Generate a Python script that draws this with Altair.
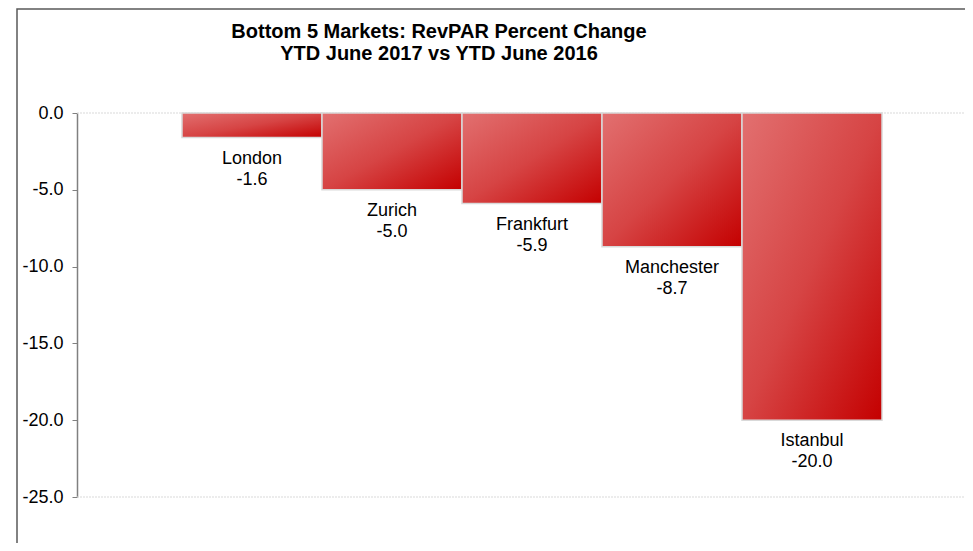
import altair as alt
import pandas as pd

markets = ["London", "Zurich", "Frankfurt", "Manchester", "Istanbul"]
changes = [-1.6, -5.0, -5.9, -8.7, -20.0]
y_ticks = [0, -5, -10, -15, -20, -25]
grid_values = [0, -25]
title_lines = ["Bottom 5 Markets: RevPAR Percent Change", "YTD June 2017 vs YTD June 2016"]

FONT = "Liberation Sans"

df = pd.DataFrame({"market": markets, "change": changes})
df["label"] = [f"{m}\n{v:.1f}" for m, v in zip(markets, changes)]

x_scale = alt.Scale(domain=markets, range=[105, 805], paddingInner=0, paddingOuter=0)
y_scale = alt.Scale(domain=[-25, 0], nice=False, zero=False)

base = alt.Chart(df)

bars = base.mark_bar(
    color=alt.LinearGradient(
        gradient="linear", x1=0, y1=0, x2=1, y2=1,
        stops=[alt.GradientStop(offset=0, color="#e27070"),
               alt.GradientStop(offset=0.5, color="#d64444"),
               alt.GradientStop(offset=1, color="#c40000")]),
    stroke="#d9d9d9", strokeWidth=1.5,
).encode(
    x=alt.X("market:N", sort=markets, axis=None, scale=x_scale),
    y=alt.Y("change:Q", scale=y_scale,
            axis=alt.Axis(values=y_ticks, format=".1f", title=None, grid=False,
                          labelExpr="replace(datum.label, '\u2212', '-')",
                          domainColor="#808080", domainWidth=1.5,
                          tickColor="#808080", tickSize=5, tickWidth=1,
                          labelFont=FONT, labelFontSize=18, labelColor="#000000",
                          labelPadding=9)),
    y2=alt.datum(0),
)

labels = base.mark_text(
    font=FONT, fontSize=18, color="#000000", baseline="alphabetic", align="center",
    lineBreak="\n", lineHeight=21, dy=26,
).encode(
    x=alt.X("market:N", sort=markets, axis=None, scale=x_scale, bandPosition=0.5),
    y=alt.Y("change:Q", scale=y_scale),
    text="label:N",
)

grid = alt.Chart(pd.DataFrame({"g": grid_values})).mark_rule(
    color="#d9d9d9", strokeWidth=1, strokeDash=[2, 1]
).encode(
    y=alt.Y("g:Q", scale=y_scale),
    x=alt.value(0), x2=alt.value(900),
)

frame = alt.Chart(alt.Data(values=[{"f": 1}])).mark_rect(
    fill=None, fillOpacity=0, stroke="#595959", strokeWidth=1.5
).encode(
    x=alt.value(-60), x2=alt.value(920), y=alt.value(-104), y2=alt.value(470),
)

title = alt.Chart(alt.Data(values=[{"t": "\n".join(title_lines)}])).mark_text(
    font=FONT, fontSize=20, fontWeight="bold", color="#000000", align="center",
    baseline="alphabetic", lineBreak="\n", lineHeight=22,
).encode(
    text="t:N", x=alt.value(362), y=alt.value(-74.7),
)

chart = alt.layer(frame, grid, bars, labels, title).properties(
    width=888, height=384,
    autosize=alt.AutoSizeParams(type="none"),
    padding={"left": 69, "top": 105, "right": 0, "bottom": 46},
).configure_view(stroke=None)

chart.save("out.html", embed_options={"renderer": "svg", "actions": False})
